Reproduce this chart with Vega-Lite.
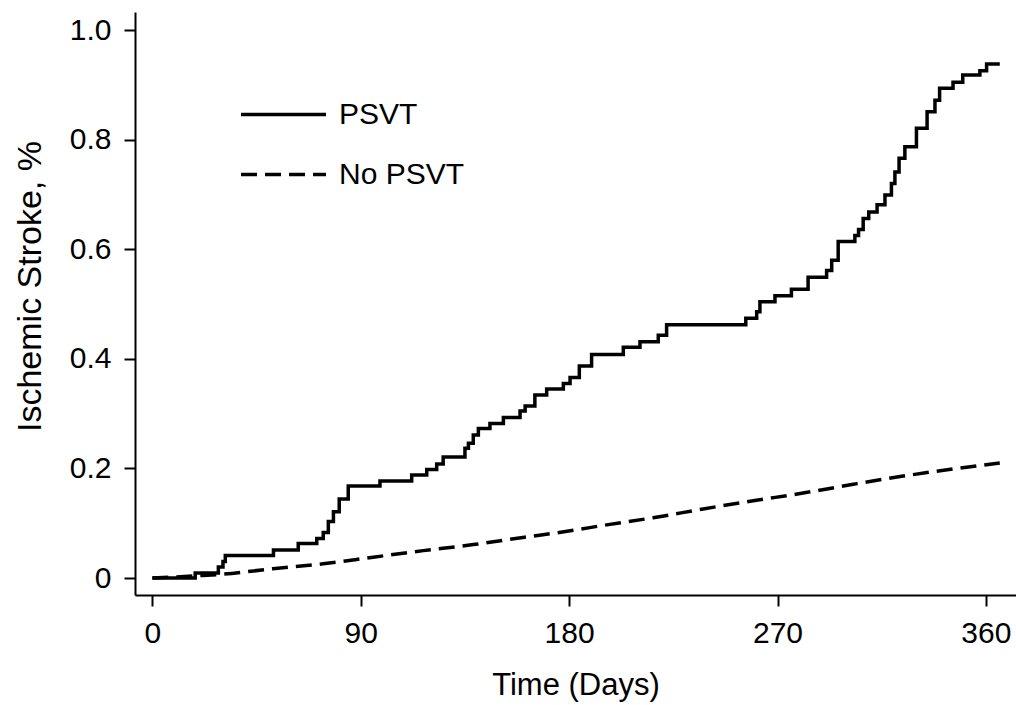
{
  "$schema": "https://vega.github.io/schema/vega-lite/v6.json",
  "width": 881,
  "height": 583,
  "autosize": {"type": "none"},
  "padding": {"left": 135, "top": 12, "right": 0, "bottom": 110},
  "background": "white",
  "config": {
    "view": {"stroke": null},
    "font": "Liberation Sans",
    "axis": {
      "grid": false,
      "domainColor": "black",
      "domainWidth": 2,
      "tickColor": "black",
      "tickWidth": 2,
      "tickSize": 11,
      "labelFont": "Liberation Sans",
      "labelFontSize": 30,
      "labelColor": "black",
      "titleFont": "Liberation Sans",
      "titleFontSize": 31,
      "titleFontWeight": "normal",
      "titleColor": "black"
    },
    "legend": {
      "labelFont": "Liberation Sans",
      "labelFontSize": 30,
      "labelColor": "black"
    }
  },
  "datasets": {
    "psvt": [
      {"day": 0, "risk": 0, "group": "PSVT"},
      {"day": 18.5, "risk": 0.009, "group": "PSVT"},
      {"day": 28.5, "risk": 0.02, "group": "PSVT"},
      {"day": 30.5, "risk": 0.03, "group": "PSVT"},
      {"day": 31.5, "risk": 0.041, "group": "PSVT"},
      {"day": 52.3, "risk": 0.051, "group": "PSVT"},
      {"day": 63, "risk": 0.063, "group": "PSVT"},
      {"day": 71, "risk": 0.072, "group": "PSVT"},
      {"day": 73.8, "risk": 0.083, "group": "PSVT"},
      {"day": 76, "risk": 0.103, "group": "PSVT"},
      {"day": 78.2, "risk": 0.121, "group": "PSVT"},
      {"day": 80.7, "risk": 0.144, "group": "PSVT"},
      {"day": 84.6, "risk": 0.168, "group": "PSVT"},
      {"day": 98.3, "risk": 0.177, "group": "PSVT"},
      {"day": 112, "risk": 0.188, "group": "PSVT"},
      {"day": 118.5, "risk": 0.198, "group": "PSVT"},
      {"day": 122.8, "risk": 0.208, "group": "PSVT"},
      {"day": 125.6, "risk": 0.221, "group": "PSVT"},
      {"day": 135, "risk": 0.237, "group": "PSVT"},
      {"day": 136.5, "risk": 0.246, "group": "PSVT"},
      {"day": 138.6, "risk": 0.261, "group": "PSVT"},
      {"day": 140.8, "risk": 0.273, "group": "PSVT"},
      {"day": 145.8, "risk": 0.282, "group": "PSVT"},
      {"day": 151.6, "risk": 0.293, "group": "PSVT"},
      {"day": 158.8, "risk": 0.305, "group": "PSVT"},
      {"day": 161, "risk": 0.314, "group": "PSVT"},
      {"day": 165.2, "risk": 0.334, "group": "PSVT"},
      {"day": 170.3, "risk": 0.345, "group": "PSVT"},
      {"day": 177.5, "risk": 0.355, "group": "PSVT"},
      {"day": 180.4, "risk": 0.366, "group": "PSVT"},
      {"day": 184.4, "risk": 0.387, "group": "PSVT"},
      {"day": 189.7, "risk": 0.408, "group": "PSVT"},
      {"day": 203.4, "risk": 0.421, "group": "PSVT"},
      {"day": 210.6, "risk": 0.431, "group": "PSVT"},
      {"day": 218.5, "risk": 0.443, "group": "PSVT"},
      {"day": 222.1, "risk": 0.462, "group": "PSVT"},
      {"day": 256.3, "risk": 0.474, "group": "PSVT"},
      {"day": 261, "risk": 0.486, "group": "PSVT"},
      {"day": 262.4, "risk": 0.504, "group": "PSVT"},
      {"day": 268.9, "risk": 0.515, "group": "PSVT"},
      {"day": 276, "risk": 0.527, "group": "PSVT"},
      {"day": 283.2, "risk": 0.549, "group": "PSVT"},
      {"day": 291.2, "risk": 0.561, "group": "PSVT"},
      {"day": 293.4, "risk": 0.58, "group": "PSVT"},
      {"day": 296.2, "risk": 0.614, "group": "PSVT"},
      {"day": 303.4, "risk": 0.625, "group": "PSVT"},
      {"day": 305, "risk": 0.636, "group": "PSVT"},
      {"day": 307, "risk": 0.656, "group": "PSVT"},
      {"day": 309.4, "risk": 0.668, "group": "PSVT"},
      {"day": 313, "risk": 0.681, "group": "PSVT"},
      {"day": 316.4, "risk": 0.699, "group": "PSVT"},
      {"day": 319.2, "risk": 0.72, "group": "PSVT"},
      {"day": 320.7, "risk": 0.741, "group": "PSVT"},
      {"day": 322.5, "risk": 0.766, "group": "PSVT"},
      {"day": 325, "risk": 0.787, "group": "PSVT"},
      {"day": 330, "risk": 0.821, "group": "PSVT"},
      {"day": 334.6, "risk": 0.851, "group": "PSVT"},
      {"day": 338, "risk": 0.872, "group": "PSVT"},
      {"day": 340, "risk": 0.894, "group": "PSVT"},
      {"day": 345.8, "risk": 0.905, "group": "PSVT"},
      {"day": 350, "risk": 0.918, "group": "PSVT"},
      {"day": 357.4, "risk": 0.926, "group": "PSVT"},
      {"day": 360.3, "risk": 0.938, "group": "PSVT"},
      {"day": 366, "risk": 0.938, "group": "PSVT"}
    ],
    "nopsvt": [
      {"day": 0, "risk": 0, "group": "No PSVT"},
      {"day": 19, "risk": 0.004, "group": "No PSVT"},
      {"day": 30.7, "risk": 0.007, "group": "No PSVT"},
      {"day": 52, "risk": 0.017, "group": "No PSVT"},
      {"day": 73.8, "risk": 0.026, "group": "No PSVT"},
      {"day": 95.4, "risk": 0.038, "group": "No PSVT"},
      {"day": 117, "risk": 0.05, "group": "No PSVT"},
      {"day": 138.6, "risk": 0.061, "group": "No PSVT"},
      {"day": 160, "risk": 0.074, "group": "No PSVT"},
      {"day": 181.8, "risk": 0.087, "group": "No PSVT"},
      {"day": 194.7, "risk": 0.096, "group": "No PSVT"},
      {"day": 216.3, "risk": 0.11, "group": "No PSVT"},
      {"day": 237.9, "risk": 0.126, "group": "No PSVT"},
      {"day": 259.5, "risk": 0.141, "group": "No PSVT"},
      {"day": 281, "risk": 0.155, "group": "No PSVT"},
      {"day": 302.7, "risk": 0.171, "group": "No PSVT"},
      {"day": 324.3, "risk": 0.186, "group": "No PSVT"},
      {"day": 345.9, "risk": 0.199, "group": "No PSVT"},
      {"day": 366, "risk": 0.21, "group": "No PSVT"}
    ]
  },
  "encoding": {
    "x": {
      "field": "day",
      "type": "quantitative",
      "scale": {"domain": [-7.5, 373], "nice": false, "zero": false},
      "axis": {
        "title": "Time (Days)",
        "values": [0, 90, 180, 270, 360],
        "labelPadding": 12,
        "titlePadding": 22,
        "labelFlush": false
      }
    },
    "y": {
      "field": "risk",
      "type": "quantitative",
      "scale": {"domain": [-0.031, 1.033], "nice": false, "zero": false},
      "axis": {
        "title": "Ischemic Stroke, %",
        "titleFontSize": 34,
        "values": [0, 0.2, 0.4, 0.6, 0.8, 1.0],
        "labelExpr": "datum.value == 0 ? '0' : format(datum.value, '.1f')",
        "labelPadding": 13,
        "titlePadding": 22,
        "titleY": 274,
        "labelFlush": false
      }
    },
    "strokeDash": {
      "field": "group",
      "type": "nominal",
      "scale": {"domain": ["PSVT", "No PSVT"], "range": [[1, 0], [16, 8]]},
      "legend": {
        "title": null,
        "orient": "none",
        "legendX": 104,
        "legendY": 58,
        "symbolType": "stroke",
        "symbolSize": 7225,
        "symbolStrokeWidth": 3.5,
        "symbolStrokeColor": "black",
        "labelOffset": 11,
        "rowPadding": -3,
        "padding": 0
      }
    }
  },
  "layer": [
    {
      "data": {"name": "psvt"},
      "mark": {"type": "line", "interpolate": "step-after", "color": "black", "strokeWidth": 3.5}
    },
    {
      "data": {"name": "nopsvt"},
      "mark": {"type": "line", "interpolate": "monotone", "color": "black", "strokeWidth": 3.5}
    }
  ]
}
